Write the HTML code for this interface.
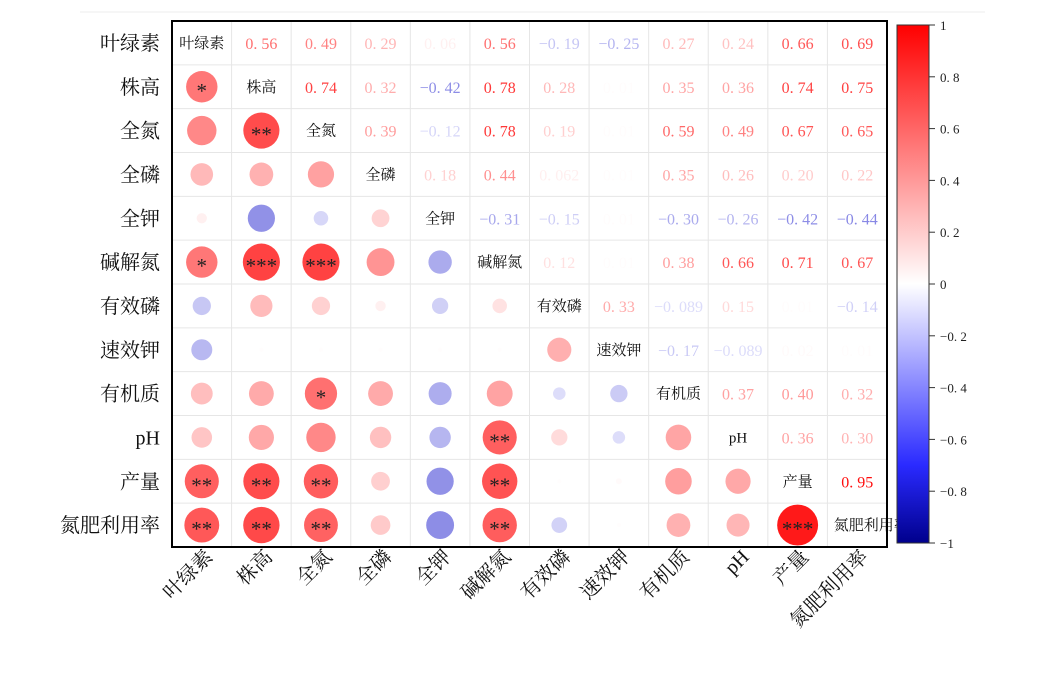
<!DOCTYPE html>
<html><head><meta charset="utf-8"><style>
body{margin:0;background:#fff;}
svg text{font-family:"Liberation Serif","Noto Serif CJK SC",serif;}
</style></head><body>
<svg id="s" width="1038" height="672" xmlns="http://www.w3.org/2000/svg">
<defs><linearGradient id="g" x1="0" y1="0" x2="0" y2="1">
<stop offset="0" stop-color="#ff0000"/><stop offset="0.5" stop-color="#ffffff"/><stop offset="0.85" stop-color="#2a2aff"/><stop offset="1" stop-color="#00008c"/>
</linearGradient></defs>
<line x1="80" y1="12" x2="985" y2="12" stroke="#eee" stroke-width="1"/>
<g id="grid"></g>
<rect x="172" y="21" width="715" height="526" fill="none" stroke="#000" stroke-width="2"/>
<rect x="897" y="25" width="32" height="518" fill="url(#g)" stroke="#333" stroke-width="1"/>
<g id="cb"></g>
</svg>
<script>
var names=["叶绿素","株高","全氮","全磷","全钾","碱解氮","有效磷","速效钾","有机质","pH","产量","氮肥利用率"];
var U=[[0.56,0.49,0.29,0.060,0.56,-0.19,-0.25,0.27,0.24,0.66,0.69],
[0.74,0.32,-0.42,0.78,0.28,0.01,0.35,0.36,0.74,0.75],
[0.39,-0.12,0.78,0.19,0.01,0.59,0.49,0.67,0.65],
[0.18,0.44,0.062,0.01,0.35,0.26,0.20,0.22],
[-0.31,-0.15,0.01,-0.30,-0.26,-0.42,-0.44],
[0.12,0.01,0.38,0.66,0.71,0.67],
[0.33,-0.089,0.15,0.01,-0.14],
[-0.17,-0.089,0.02,0.01],
[0.37,0.40,0.32],[0.36,0.30],[0.95]];
var M=[];for(var i=0;i<12;i++){M.push([]);for(var j=0;j<12;j++)M[i].push(1);}
for(var i=0;i<11;i++)for(var k=0;k<U[i].length;k++){var j=i+1+k;M[i][j]=U[i][k];M[j][i]=U[i][k];}
var stars={"1,0":"*","2,1":"**","5,0":"*","5,1":"***","5,2":"***","8,2":"*","9,5":"**","10,0":"**","10,1":"**","10,2":"**","10,5":"**","11,0":"**","11,1":"**","11,2":"**","11,5":"**","11,10":"***"};
function col(v){var t=Math.round(255*(1-Math.abs(v)));return v>=0?"rgb(255,"+t+","+t+")":"rgb("+Math.round(t*0.95)+","+Math.round(t*0.95)+","+Math.round(255-Math.abs(v)*60)+")";}
var x0=172,y0=21,cw=715/12,ch=526/12,h="";
for(var i=1;i<12;i++){h+='<line x1="'+(x0+i*cw)+'" y1="'+y0+'" x2="'+(x0+i*cw)+'" y2="547" stroke="#e6e6e6"/>';
h+='<line x1="'+x0+'" y1="'+(y0+i*ch)+'" x2="887" y2="'+(y0+i*ch)+'" stroke="#e6e6e6"/>';}
for(var i=0;i<12;i++){var cy=y0+(i+0.5)*ch;
h+='<text x="160" y="'+(cy+7)+'" font-size="20" text-anchor="end" fill="#111">'+names[i]+'</text>';
var cx=x0+(i+0.5)*cw;
h+='<text transform="translate('+(cx+12)+',558) rotate(-45)" font-size="20" text-anchor="end" fill="#111">'+names[i]+'</text>';
for(var j=0;j<12;j++){var x=x0+(j+0.5)*cw,v=M[i][j];
if(i==j){h+='<text x="'+(i==11?x+14:x)+'" y="'+(cy+5)+'" font-size="15" text-anchor="middle" fill="#111">'+names[i]+'</text>';}
else if(j>i){var s=Math.abs(v)<0.1?v.toFixed(3).replace(/0+$/,''):v.toFixed(2);s=s.replace(".",". ").replace("-","−");
h+='<text x="'+x+'" y="'+(cy+6)+'" font-size="16" text-anchor="middle" fill="'+col(v)+'">'+s+'</text>';}
else{var r=21*Math.sqrt(Math.abs(v));h+='<circle cx="'+x+'" cy="'+cy+'" r="'+r+'" fill="'+col(v*0.95)+'"/>';
var st=stars[i+","+j];if(st)h+='<text x="'+x+'" y="'+(cy+11)+'" font-size="21" text-anchor="middle" fill="#222">'+st+'</text>';}}}
document.getElementById("grid").innerHTML=h;
var c="";for(var k=0;k<=10;k++){var v=1-k*0.2,y=25+k*51.8;var s=Math.abs(v)<1e-9?"0":(Math.abs(v)==1?String(Math.round(v)):v.toFixed(1));
s=s.replace(".",". ").replace("-","−");
c+='<line x1="929" y1="'+y+'" x2="935" y2="'+y+'" stroke="#333"/><text x="940" y="'+(y+5)+'" font-size="13" fill="#222">'+s+'</text>';}
document.getElementById("cb").innerHTML=c;
</script>
</body></html>
